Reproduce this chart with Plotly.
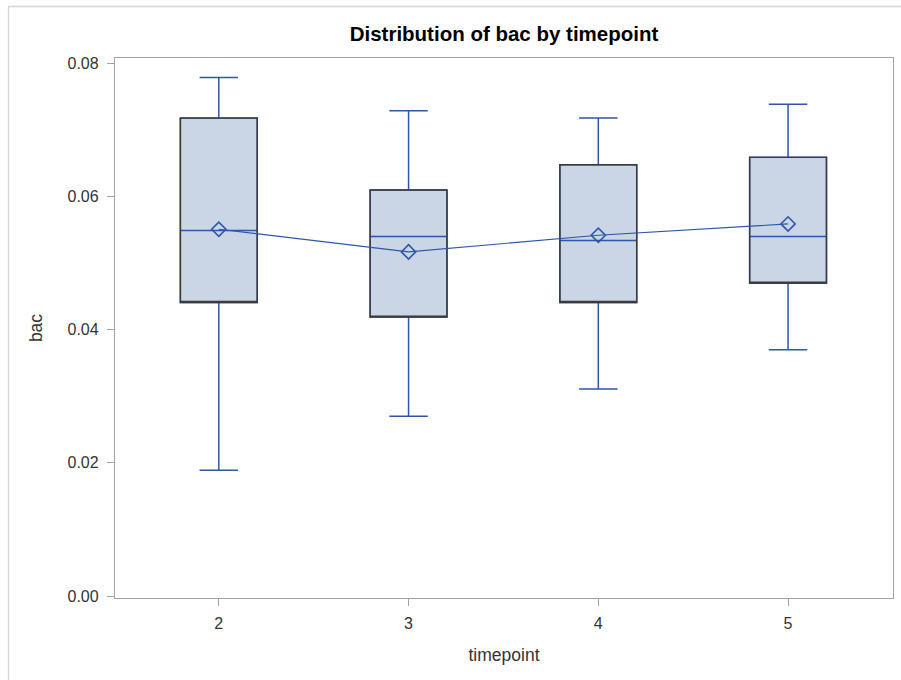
import plotly.graph_objects as go

timepoints = [2, 3, 4, 5]
bac_min = [0.0189, 0.0270, 0.0311, 0.0370]
bac_q1 = [0.0441, 0.0419, 0.0441, 0.0470]
bac_median = [0.0549, 0.0540, 0.0534, 0.0540]
bac_q3 = [0.0718, 0.0610, 0.0648, 0.0659]
bac_max = [0.0779, 0.0729, 0.0718, 0.0739]
bac_mean = [0.0551, 0.0517, 0.0542, 0.0559]
y_ticks = [0.00, 0.02, 0.04, 0.06, 0.08]
y_ticklabels = ["0.00", "0.02", "0.04", "0.06", "0.08"]

BLUE = "#2E56A9"
FILL = "#CAD5E5"
DARK = "#3A3A3A"
AXIS = "#A3A3A3"
TXT = "#333333"
FONT = "Liberation Sans, Arial, sans-serif"

fig = go.Figure()
# Box with blue whiskers and median
fig.add_trace(go.Box(
    x=timepoints, q1=bac_q1, median=bac_median, q3=bac_q3,
    lowerfence=bac_min, upperfence=bac_max,
    fillcolor=FILL, line=dict(color=BLUE, width=1.5),
    width=0.405, whiskerwidth=0.5, boxpoints=False,
    hoverinfo="skip", showlegend=False))
# Dark outline of box body
fig.add_trace(go.Box(
    x=timepoints, q1=bac_q1, median=bac_q1, q3=bac_q3,
    lowerfence=bac_q1, upperfence=bac_q3,
    fillcolor="rgba(0,0,0,0)", line=dict(color=DARK, width=1.4),
    width=0.405, whiskerwidth=0.5, boxpoints=False,
    hoverinfo="skip", showlegend=False))
# Means connected
fig.add_trace(go.Scatter(
    x=timepoints, y=bac_mean, mode="lines+markers",
    line=dict(color=BLUE, width=1.2),
    marker=dict(symbol="diamond-open", size=11, color=BLUE, line=dict(width=1.6, color=BLUE)),
    showlegend=False))

fig.update_layout(
    width=901, height=680,
    margin=dict(l=115, r=8, t=58, b=82),
    paper_bgcolor="white", plot_bgcolor="white",
    font=dict(family=FONT, size=16, color=TXT),
    title=dict(text="<b>Distribution of bac by timepoint</b>", x=0.5, xref="paper",
               xanchor="center", y=1 - 34 / 680, yanchor="middle",
               font=dict(family=FONT, size=20.5, color="black")),
    showlegend=False,
    boxmode="overlay",
)
fig.update_xaxes(
    range=[1.453, 5.553], tickvals=timepoints, ticktext=[str(t) for t in timepoints],
    showgrid=False, zeroline=False, showline=True, linecolor=AXIS, linewidth=1.3,
    mirror=True, ticks="outside", ticklen=7, tickcolor=AXIS, ticklabelstandoff=4,
    title=dict(text="timepoint", standoff=17, font=dict(size=17.5, color=TXT)),
    tickfont=dict(size=16, color=TXT))
fig.update_yaxes(
    range=[-0.0003, 0.08083], tickvals=y_ticks, ticktext=y_ticklabels,
    showgrid=False, zeroline=False, showline=True, linecolor=AXIS, linewidth=1.3,
    mirror=True, ticks="outside", ticklen=7, tickcolor=AXIS, ticklabelstandoff=5,
    title=dict(text="bac", standoff=20, font=dict(size=17.5, color=TXT)),
    tickfont=dict(size=16, color=TXT))

# outer frame of the graph image
fig.add_shape(type="rect", xref="paper", yref="paper",
              x0=(8.5 - 115) / 778, x1=(920 - 115) / 778,
              y0=1 - (700 - 58) / 540, y1=1 + (58 - 6.5) / 540,
              line=dict(color="#D4D4D4", width=1.3), fillcolor="rgba(0,0,0,0)", layer="below")

fig.write_html("out.html", config={"displayModeBar": False},
               post_script="document.body.style.margin='0';document.body.style.overflow='hidden';")
